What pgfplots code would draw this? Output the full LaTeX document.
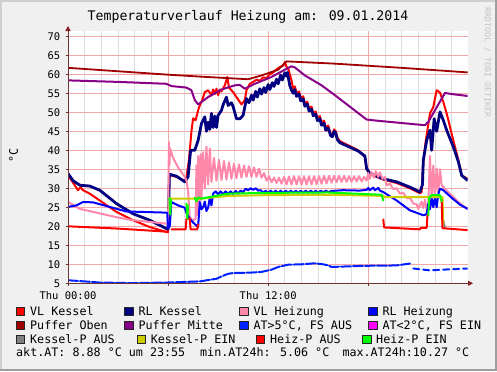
\documentclass[border=0pt]{standalone}
\usepackage{fontspec}
\setmainfont{DejaVu Sans Mono}
\usepackage{pgfplots}
\pgfplotsset{compat=1.18}
\usetikzlibrary{arrows.meta}
\definecolor{bgc}{HTML}{F0F0F0}
\definecolor{shadea}{HTML}{CFCFCF}
\definecolor{shadeb}{HTML}{9E9E9E}
\definecolor{mgridc}{HTML}{F2A8A8}
\definecolor{gridc}{HTML}{DDDDDD}
\definecolor{axc}{HTML}{6E3434}
\definecolor{arrc}{HTML}{8A2020}
\definecolor{wm}{HTML}{C4C4C4}
\definecolor{vlk}{HTML}{FF0000}
\definecolor{rlk}{HTML}{000080}
\definecolor{vlh}{HTML}{FF88AA}
\definecolor{rlh}{HTML}{0000FF}
\definecolor{po}{HTML}{A00000}
\definecolor{pm}{HTML}{880088}
\definecolor{atfive}{HTML}{0022FF}
\definecolor{attwo}{HTML}{FF00FF}
\definecolor{kpa}{HTML}{808080}
\definecolor{kpe}{HTML}{CCCC00}
\definecolor{hpa}{HTML}{FF0000}
\definecolor{hpe}{HTML}{00FF00}
\newcommand{\lgf}{\fontsize{11.7bp}{14bp}\selectfont}
\newcommand{\lbox}[3]{\filldraw[fill=#3, draw=black!85, line width=0.8bp] (#1,#2) rectangle ++(8.6,8.4);}
\begin{document}
\begin{tikzpicture}[x=1bp,y=1bp]
\fill[bgc] (0,0) rectangle (497,371);
\fill[shadea] (0,368.5) rectangle (497,371);
\fill[shadea] (0,0) rectangle (2,371);
\fill[shadeb] (0,0) rectangle (497,2.5);
\fill[shadeb] (494.5,0) rectangle (497,371);
\path[use as bounding box] (0,0) rectangle (497,371);

\begin{axis}[
  at={(68bp,87.7bp)}, anchor=south west,
  scale only axis, width=399.5bp, height=252.7bp,
  xmin=0, xmax=23.95, ymin=5, ymax=71.5,
  axis background/.style={fill=white},
  axis line style={draw=none},
  tick pos=left, tick align=outside,
  major tick length=2.5bp, minor tick length=0pt,
  tick style={axc, line width=0.8bp},
  xtick={0,6,12,18}, xticklabels={Thu 00:00,,Thu 12:00,},
  minor xtick={1,2,3,4,5,7,8,9,10,11,13,14,15,16,17,19,20,21,22,23},
  ytick={5,10,...,70},
  grid=both,
  major grid style={mgridc, line width=0.8bp},
  minor grid style={gridc, line width=0.8bp},
  /pgf/number format/assume math mode=true,
  ticklabel style={font=\fontsize{10.5bp}{12bp}\selectfont},
  yticklabel style={inner sep=0pt, xshift=-5bp},
  xticklabel style={inner sep=0pt, yshift=-6bp},
  every axis plot/.append style={line join=round, line cap=round},
]
% VL Kessel
\addplot[vlk, line width=2bp] coordinates {
(0,33.4) (0.3,31.5) (0.6,29.5) (0.75,30.3) (0.9,29.5) (1.3,28.6) (1.9,26.8) (2.9,23.8) (3.9,21.6) (4.9,19.8) (5.9,18.5) (6.0,18.5)
(6.08,33.5) (6.5,33.0) (7.0,32.0) (7.1,33) (7.25,37.4) (7.4,45) (7.5,48.4) (7.65,47.9) (7.8,50.5) (7.9,51.8) (8.0,52.7) (8.2,55.3)
(8.4,55.8) (8.6,54.5) (8.7,56.0) (8.8,54.8) (8.9,56.2) (9.0,54.5) (9.1,56) (9.2,55.5) (9.4,57.1) (9.55,59.3) (9.65,56.5) (9.9,55.3)
(10.1,54.0) (10.3,52.7) (10.4,52.1) (10.6,53.2) (10.7,55.8) (10.9,57.5) (11.1,58.0) (11.3,58.6) (11.5,58.3) (11.7,59.2) (11.9,59.0)
(12.1,60.0) (12.3,60.5) (12.5,61.3) (12.7,61.9) (12.9,62.3) (13.0,63.2) (13.1,62) (13.2,61.5) (13.4,58.4) (13.5,56.2) (13.6,56.8)
(13.7,55.0) (13.85,55.5) (13.95,53.8) (14.1,54.2) (14.2,52.3) (14.35,52.8) (14.45,51.0) (14.6,51.5) (14.7,49.8) (14.85,50.2)
(14.95,48.5) (15.1,49.0) (15.2,47.3) (15.35,47.8) (15.45,46.0) (15.6,46.5) (15.75,44.3) (15.85,44.0) (15.95,45.5) (16.05,45.0)
(16.15,43.3) (16.3,42.4) (16.8,41.3) (17.4,40) (17.8,38.2) (17.9,35.0) (18.1,33.7) (18.9,32.3) (19.7,31.4) (20.5,30.0) (21.1,28.7)
(21.2,29) (21.3,37) (21.45,42.6) (21.7,49.7) (21.9,51.4) (22.1,55.8) (22.3,55.2) (22.5,52.7) (22.7,49.7) (23.1,42.6) (23.4,37.5)
(23.6,33.4) (23.95,32.5)};
% RL Kessel
\addplot[rlk, line width=2.8bp] coordinates {
(0,33.9) (0.3,32) (0.72,30.8) (1.3,30.6) (1.9,29.5) (2.9,26.0) (3.9,23.3) (4.9,21.6) (5.9,19.4) (6.0,19.3) (6.08,33.7) (6.5,33.2)
(7.0,31.7) (7.2,33) (7.35,40) (7.6,40) (7.8,42.6) (8.0,47.0) (8.2,48.8) (8.3,45) (8.4,47.4) (8.5,45.5) (8.6,49.7) (8.7,46) (8.8,49)
(8.9,46) (9.0,49.2) (9.2,50.5) (9.3,52) (9.5,54.0) (9.6,51.8) (9.8,52.5) (9.9,51.5) (10.1,48.3) (10.3,48.3) (10.5,49.2) (10.7,53.6)
(10.85,52.5) (11.0,54.5) (11.1,53.2) (11.25,55.5) (11.35,54.0) (11.5,56.2) (11.6,54.8) (11.75,56.5) (11.85,55.2) (12.0,57.3)
(12.1,56.0) (12.25,57.8) (12.35,56.8) (12.5,58.7) (12.6,57.5) (12.75,59.8) (12.85,58.5) (13.0,60.4) (13.1,59.5) (13.15,60.5)
(13.3,57) (13.4,55.8) (13.5,55.0) (13.6,56.0) (13.7,54.2) (13.85,54.8) (13.95,53.0) (14.1,53.5) (14.2,51.6) (14.35,52.1)
(14.45,50.3) (14.6,50.8) (14.7,49.1) (14.85,49.5) (14.95,47.8) (15.1,48.3) (15.2,46.6) (15.35,47.1) (15.45,45.3) (15.6,45.8)
(15.75,43.8) (15.85,43.6) (15.95,45.0) (16.05,44.5) (16.15,42.8) (16.3,42.0) (16.8,41.0) (17.4,39.8) (17.8,38.5) (17.9,35.2)
(18.1,33.9) (18.9,32.5) (19.7,31.7) (20.5,30.3) (21.1,29.0) (21.25,31) (21.3,37.4) (21.5,42.6) (21.7,45.3) (21.8,40) (21.95,48.3)
(22.1,45) (22.3,50.1) (22.5,47.9) (22.7,45.3) (23.1,40.9) (23.4,37.0) (23.6,33.4) (23.95,32.1)};
% VL Heizung
\addplot[vlh, line width=2bp] coordinates {
(0,26.4) (0.7,24.6) (1.5,23.8) (2.9,22.4) (3.9,21.6) (5.9,20.7) (6.0,20.3) (6.05,42.2) (6.08,36) (6.12,40.5) (6.3,38) (6.6,35.5)
(7.0,33.0) (7.1,32.1) (7.2,29) (7.3,22.4) (7.5,21.5) (7.65,22.0) (7.7,36) (7.75,23) (7.8,38.5) (7.85,24) (7.95,39) (8.0,27)
(8.1,39.5) (8.2,30) (8.3,41) (8.4,31) (8.5,40.5) (8.6,31.7) (8.75,38.0) (8.9,32.0) (9.05,37.5) (9.2,32.2) (9.35,37.2) (9.5,32.3)
(9.65,36.8) (9.8,32.5) (9.95,36.5) (10.1,32.6) (10.25,36.3) (10.4,32.8) (10.55,36.0) (10.7,33.0) (10.85,35.8) (11.0,33.0)
(11.15,35.5) (11.3,33.0) (11.45,35.2) (11.6,32.8) (11.75,34.0) (11.9,32.0) (12.05,33.2) (12.2,31.6) (12.35,32.8) (12.5,31.4)
(12.65,32.8) (12.8,31.2) (12.95,33.0) (13.1,31.0) (13.25,33.1) (13.4,31.0) (13.55,33.2) (13.7,31.0) (13.85,33.2) (14.0,31.0)
(14.15,33.2) (14.3,31.0) (14.45,33.2) (14.6,31.0) (14.75,33.2) (14.9,31.1) (15.05,33.2) (15.2,31.2) (15.35,33.3) (15.5,31.3)
(15.65,33.3) (15.8,31.5) (15.95,33.3) (16.1,31.6) (16.25,33.3) (16.4,31.7) (16.55,33.3) (16.7,31.7) (16.85,33.2) (17.0,31.7)
(17.15,33.2) (17.3,31.8) (17.45,33.2) (17.6,31.8) (17.75,33.0) (17.9,32.0) (18.0,34.0) (18.1,32.5) (18.2,34.3) (18.35,32.8)
(18.45,34.5) (18.6,33.0) (18.7,34.2) (18.85,32.5) (19.0,33.0) (19.1,30.8) (19.3,31.2) (19.5,29.8) (19.7,30.0) (19.9,28.6)
(20.1,28.8) (20.3,27.4) (20.5,27.5) (20.7,26.0) (20.9,25.8) (21.0,24.6) (21.2,26.5) (21.3,24.8) (21.4,27.0) (21.5,24.5) (21.6,26)
(21.7,38.5) (21.8,27) (21.9,36) (22.0,28) (22.1,35.2) (22.2,29) (22.3,35.0) (22.4,30.8) (22.8,29.0) (23.2,27.3) (23.6,25.6)
(23.95,24.6)};
% RL Heizung
\addplot[rlh, line width=2bp] coordinates {
(0,25.1) (0.5,25.5) (0.9,26.4) (1.5,26.3) (2.5,25.1) (3.5,23.9) (5.9,23.6) (5.95,23.5) (6.0,19.5) (6.1,20) (6.2,26.4) (6.6,25.5)
(7.0,24.9) (7.1,23.5) (7.3,22) (7.5,21) (7.8,19.8) (7.9,26.4) (8.0,24.5) (8.1,25) (8.2,26.5) (8.3,24) (8.4,24.9) (8.5,27.5)
(8.6,25.5) (8.7,28.6) (8.85,29.2) (9.0,28.4) (9.15,29.2) (9.3,28.4) (9.45,29.2) (9.6,28.5) (9.75,29.2) (9.9,28.5) (10.05,29.3)
(10.2,28.6) (10.35,29.4) (10.5,29.0) (10.65,29.9) (10.8,29.5) (10.95,30.0) (11.1,29.6) (11.25,30.0) (11.4,29.4) (11.55,29.5)
(11.7,28.8) (11.85,29.4) (12.0,28.7) (12.15,29.4) (12.3,28.7) (12.45,29.4) (12.6,28.7) (12.75,29.4) (12.9,28.7) (13.05,29.4)
(13.2,28.8) (13.35,29.4) (13.5,28.8) (13.65,29.4) (13.8,28.8) (13.95,29.4) (14.1,28.8) (14.25,29.4) (14.4,28.8) (14.55,29.4)
(14.7,28.8) (14.85,29.4) (15.0,28.8) (15.15,29.4) (15.3,28.9) (15.45,29.4) (15.6,29.0) (15.8,29.3) (16.5,29.5) (17.5,29.4)
(17.9,29.6) (18.0,30.1) (18.1,29.5) (18.3,30.2) (18.4,29.5) (18.6,30.1) (18.7,29.4) (18.9,29.0) (19.7,26.8) (20.5,24.2)
(21.3,22.9) (21.5,23.2) (21.6,26) (21.7,24.5) (21.8,27.5) (21.9,25) (22.0,27.5) (22.1,25) (22.2,28.5) (22.3,29.9) (22.5,29.5)
(23.0,27.5) (23.5,25.7) (23.95,24.6)};
% Puffer Oben
\addplot[po, line width=1.8bp] coordinates {
(0,61.7) (2,61.1) (4,60.5) (6,59.9) (7.9,59.4) (10.8,58.7) (11.6,59.7) (12.6,61.2) (12.9,62.5) (13.1,63.4) (16.0,62.8)
(20,61.7) (23.95,60.5)};
% Puffer Mitte
\addplot[pm, line width=2bp] coordinates {
(0,58.4) (3,58.0) (5.9,57.5) (6.2,56.9) (7.1,56.5) (7.4,55.8) (7.6,53.2) (7.8,52.1) (8.4,54.0) (9.2,56.0) (10.0,57.1) (10.3,57.2)
(10.6,56.2) (11.2,57.5) (12.2,59.3) (13.0,61.2) (13.4,62.1) (13.6,61.8) (14.2,59.7) (15.2,57.1) (16.0,54.5) (17.9,48.1)
(18.5,47.8) (21.4,46.6) (21.6,47.5) (22.6,55.1) (23.0,54.8) (23.95,54.3)};
% Aussentemperatur
\addplot[atfive, line width=2bp, dash pattern=on 10bp off 2bp] coordinates {
(0,5.8) (1,5.5) (1.9,5.2) (3.9,5.06) (5.9,5.2) (7.9,5.5) (8.9,6.2) (9.3,7.0) (9.6,7.5) (9.9,7.7) (10.9,7.8) (11.6,8.0)
(12.2,8.6) (12.6,9.3) (13.2,9.9) (14.0,10.0) (14.8,10.27) (15.3,10.0) (15.6,9.7) (15.8,9.3) (17.7,9.6) (19.7,9.7) (20.5,10.2)};
\addplot[atfive, line width=2bp, dash pattern=on 6bp off 4bp] coordinates {
(20.7,8.9) (21.7,8.4) (22.5,8.6) (23.95,8.9)};
% Kessel-P AUS
\addplot[kpa, line width=2bp] coordinates {(22.5,21.5) (22.6,19.5)};
% Kessel-P EIN
\addplot[kpe, line width=2bp] coordinates {
(6.08,27.3) (8.0,27.3) (9.6,28.0) (12,28.2) (15.6,28.3) (18.9,28.0) (19.0,27.7) (22.45,27.7) (22.5,20.5)};
% Heiz-P AUS
\addplot[hpa, line width=2bp] coordinates {(0,20.0) (3,19.4) (5.9,18.6) (6.0,18.5)};
\addplot[hpa, line width=2bp] coordinates {(6.2,19.2) (7.05,19.2) (7.1,22) (7.3,22) (7.35,19.2) (7.75,19.2) (7.8,20.5)};
\addplot[hpa, line width=2bp] coordinates {(18.9,21.8) (18.95,19.7) (21.1,19.2) (21.15,19.6) (21.5,19.6) (21.55,23)};
\addplot[hpa, line width=2bp] coordinates {(22.4,27) (22.45,19.5) (23.95,19.0)};
% Heiz-P EIN
\addplot[hpe, line width=2bp] coordinates {(6.08,27.4) (6.13,23.1) (6.18,27)};
\addplot[hpe, line width=2bp] coordinates {(7.1,26.0) (7.15,22.0) (7.2,25.5)};
\addplot[hpe, line width=2bp] coordinates {
(7.6,27.5) (7.7,26.5) (7.8,27.6) (8.0,27.3) (9.6,28.6) (12,28.8) (15.6,28.9) (18.8,28.3) (18.9,26.8)};
\addplot[hpe, line width=2bp] coordinates {(21.6,22.9) (21.65,27.5) (21.8,28.2) (22.3,28.2) (22.4,26.5)};
\end{axis}

% axes with arrows
\draw[axc, line width=1bp] (68,87.7) -- (68,341);
\fill[arrc] (65.3,340) -- (70.7,340) -- (68,345) -- cycle;
\draw[axc, line width=1bp] (68,87.7) -- (468,87.7);
\fill[arrc] (468,85) -- (468,90.4) -- (473,87.7) -- cycle;

% title and labels
\node[anchor=base, inner sep=0pt, font=\fontsize{13.2bp}{15bp}\selectfont] at (248,350.3) {Temperaturverlauf Heizung am: 09.01.2014};
\node[rotate=90, inner sep=0pt, font=\lgf] at (13.5,216) {°C};
\node[rotate=-90, anchor=west, inner sep=0pt, text=wm, font=\fontsize{8.3bp}{9bp}\selectfont] at (487.5,364) {RRDTOOL / TOBI OETIKER};

% legend
\lbox{16}{55.5}{vlk}  \node[anchor=base west, inner sep=0pt, font=\lgf] at (30,55.7) {VL Kessel};
\lbox{124.5}{55.5}{rlk} \node[anchor=base west, inner sep=0pt, font=\lgf] at (138.3,55.7) {RL Kessel};
\lbox{239.5}{55.5}{vlh} \node[anchor=base west, inner sep=0pt, font=\lgf] at (253.3,55.7) {VL Heizung};
\lbox{368.3}{55.5}{rlh} \node[anchor=base west, inner sep=0pt, font=\lgf] at (382.3,55.7) {RL Heizung};

\lbox{16}{41.5}{po}  \node[anchor=base west, inner sep=0pt, font=\lgf] at (30,41.7) {Puffer Oben};
\lbox{124.5}{41.5}{pm} \node[anchor=base west, inner sep=0pt, font=\lgf] at (138.3,41.7) {Puffer Mitte};
\lbox{239.5}{41.5}{atfive} \node[anchor=base west, inner sep=0pt, font=\lgf] at (253.3,41.7) {AT>5°C, FS AUS};
\lbox{368.3}{41.5}{attwo} \node[anchor=base west, inner sep=0pt, font=\lgf] at (382.3,41.7) {AT<2°C, FS EIN};

\lbox{16}{27.5}{kpa}  \node[anchor=base west, inner sep=0pt, font=\lgf] at (30,27.7) {Kessel-P AUS};
\lbox{137}{27.5}{kpe} \node[anchor=base west, inner sep=0pt, font=\lgf] at (150.7,27.7) {Kessel-P EIN};
\lbox{256.2}{27.5}{hpa} \node[anchor=base west, inner sep=0pt, font=\lgf] at (270,27.7) {Heiz-P AUS};
\lbox{362.5}{27.5}{hpe} \node[anchor=base west, inner sep=0pt, font=\lgf] at (376,27.7) {Heiz-P EIN};

\node[anchor=base west, inner sep=0pt, font=\lgf] at (16,14.3) {akt.AT: 8.88 °C um 23:55};
\node[anchor=base west, inner sep=0pt, font=\lgf] at (200,14.3) {min.AT24h: 5.06 °C};
\node[anchor=base west, inner sep=0pt, font=\lgf] at (342.3,14.3) {max.AT24h:10.27 °C};
\end{tikzpicture}
\end{document}
